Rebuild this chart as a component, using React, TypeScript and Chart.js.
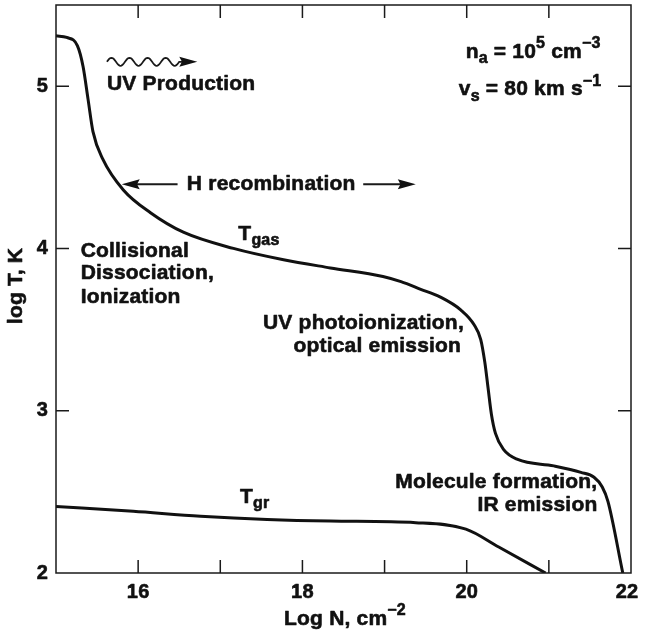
import { useEffect, useRef } from 'react';
import { Chart, registerables } from 'chart.js';
Chart.register(...registerables);

const gasLogN = [15.0, 15.13, 15.26, 15.33, 15.39, 15.45, 15.57, 15.82, 16.15, 16.55, 17.16, 17.77, 18.34, 18.98, 19.2, 19.44, 19.68, 19.93, 20.09, 20.17, 20.22, 20.26, 20.3, 20.35, 20.45, 20.62, 21.06, 21.39, 21.55, 21.65, 21.72, 21.9];
const gasLogT = [5.31, 5.3, 5.25, 5.12, 4.92, 4.72, 4.55, 4.36, 4.22, 4.1, 4.0, 3.93, 3.88, 3.827, 3.795, 3.748, 3.7, 3.62, 3.53, 3.44, 3.3, 3.14, 2.98, 2.86, 2.76, 2.7, 2.66, 2.62, 2.59, 2.53, 2.44, 2.0];
const grLogN = [15.0, 15.94, 16.76, 17.57, 18.34, 19.38, 19.99, 20.39, 20.96];
const grLogT = [2.41, 2.38, 2.35, 2.33, 2.32, 2.31, 2.27, 2.16, 2.0];
const xTickMarks = [16, 17, 18, 19, 20, 21];
const yTickMarks = [3, 4, 5];
const xLabelTicks = [16, 18, 20, 22];
const yLabelTicks = [2, 3, 4, 5];

const FONT = "'Liberation Sans', Arial, Helvetica, sans-serif";
const FS = 21;
const TICK_FS = 20;

type Part = { t: string; s?: 'sub' | 'sup' };

function drawRich(ctx: CanvasRenderingContext2D, parts: Part[], x: number, y: number, align: 'left' | 'right' | 'center', size = FS) {
  const small = Math.round(size * 0.76);
  const fontFor = (p: Part) => `bold ${p.s ? small : size}px ${FONT}`;
  (ctx as any).letterSpacing = '0.2px';
  let w = 0;
  for (const p of parts) {
    ctx.font = fontFor(p);
    w += ctx.measureText(p.t).width;
  }
  let cx = align === 'left' ? x : align === 'right' ? x - w : x - w / 2;
  ctx.textAlign = 'left';
  ctx.textBaseline = 'middle';
  ctx.save();
  ctx.lineWidth = 0.6;
  ctx.strokeStyle = '#111';
  ctx.lineJoin = 'round';
  for (const p of parts) {
    ctx.font = fontFor(p);
    const dy = p.s === 'sub' ? 7 : p.s === 'sup' ? -8 : 0;
    ctx.fillText(p.t, cx, y + dy);
    ctx.strokeText(p.t, cx, y + dy);
    cx += ctx.measureText(p.t).width;
  }
  ctx.restore();
  (ctx as any).letterSpacing = '0px';
}

function arrowHead(ctx: CanvasRenderingContext2D, tipX: number, tipY: number, dir: number, len: number, half: number) {
  ctx.beginPath();
  ctx.moveTo(tipX, tipY);
  ctx.lineTo(tipX - dir * len, tipY - half);
  ctx.lineTo(tipX - dir * len * 0.85, tipY);
  ctx.lineTo(tipX - dir * len, tipY + half);
  ctx.closePath();
  ctx.fill();
}

const decor = {
  id: 'decor',
  afterDraw(chart: any) {
    const { ctx, chartArea: a, scales } = chart;
    const xs = scales.x;
    const ys = scales.y;
    const X = (v: number) => xs.getPixelForValue(v);
    const Y = (v: number) => ys.getPixelForValue(v);
    ctx.save();
    ctx.strokeStyle = '#1a1a1a';
    ctx.fillStyle = '#111';
    ctx.lineWidth = 1.5;
    ctx.strokeRect(a.left, a.top, a.right - a.left, a.bottom - a.top);
    const tl = 13;
    ctx.beginPath();
    for (const v of xTickMarks) {
      const px = X(v);
      ctx.moveTo(px, a.bottom);
      ctx.lineTo(px, a.bottom - tl);
      ctx.moveTo(px, a.top);
      ctx.lineTo(px, a.top + tl);
    }
    for (const v of yTickMarks) {
      const py = Y(v);
      ctx.moveTo(a.left, py);
      ctx.lineTo(a.left + tl, py);
      ctx.moveTo(a.right, py);
      ctx.lineTo(a.right - tl, py);
    }
    ctx.stroke();

    // tick labels
    for (const v of xLabelTicks) drawRich(ctx, [{ t: String(v) }], Math.min(X(v), a.right - 4), a.bottom + 19, 'center', TICK_FS);
    for (const v of yLabelTicks) drawRich(ctx, [{ t: String(v) }], a.left - 8, Y(v), 'right', TICK_FS);

    // axis titles
    ctx.save();
    ctx.translate(16, 286);
    ctx.rotate(-Math.PI / 2);
    drawRich(ctx, [{ t: 'log T, K' }], 0, 0, 'center');
    ctx.restore();
    drawRich(ctx, [{ t: 'Log N, cm' }, { t: '\u22122', s: 'sup' }], 345, 619, 'center');

    // wavy arrow
    const wx0 = X(15.62), wx1 = X(16.5), wy = Y(5.15);
    ctx.lineWidth = 1.8;
    ctx.beginPath();
    const per = (wx1 - wx0) / 4;
    for (let i = 0; i <= 80; i++) {
      const px = wx0 + ((wx1 - wx0) * i) / 80;
      const py = wy - 4 * Math.sin(((px - wx0) / per) * 2 * Math.PI);
      if (i === 0) ctx.moveTo(px, py); else ctx.lineTo(px, py);
    }
    ctx.lineTo(X(16.6), wy);
    ctx.stroke();
    arrowHead(ctx, X(16.72), wy, 1, 18, 5);

    drawRich(ctx, [{ t: 'UV Production' }], X(15.62), Y(5.01), 'left');

    // H recombination
    const hy = Y(4.395);
    drawRich(ctx, [{ t: 'H recombination' }], X(17.62), hy, 'center');
    ctx.lineWidth = 2;
    ctx.beginPath();
    ctx.moveTo(X(16.48), hy);
    ctx.lineTo(X(15.95), hy);
    ctx.moveTo(X(18.74), hy);
    ctx.lineTo(X(19.2), hy);
    ctx.stroke();
    arrowHead(ctx, X(15.8), hy, -1, 18, 5);
    arrowHead(ctx, X(19.38), hy, 1, 18, 5);

    drawRich(ctx, [{ t: 'T' }, { t: 'gas', s: 'sub' }], X(17.22), Y(4.09), 'left');
    drawRich(ctx, [{ t: 'T' }, { t: 'gr', s: 'sub' }], X(17.24), Y(2.47), 'left');

    drawRich(ctx, [{ t: 'Collisional' }], X(15.3), Y(3.98), 'left');
    drawRich(ctx, [{ t: 'Dissociation,' }], X(15.3), Y(3.85), 'left');
    drawRich(ctx, [{ t: 'Ionization' }], X(15.3), Y(3.7), 'left');

    drawRich(ctx, [{ t: 'UV photoionization,' }], X(17.52), Y(3.54), 'left');
    drawRich(ctx, [{ t: 'optical emission' }], X(17.89), Y(3.4), 'left');

    drawRich(ctx, [{ t: 'Molecule formation,' }], X(19.13), Y(2.56), 'left');
    drawRich(ctx, [{ t: 'IR emission' }], X(20.13), Y(2.42), 'left');

    drawRich(ctx, [{ t: 'n' }, { t: 'a', s: 'sub' }, { t: ' = 10' }, { t: '5', s: 'sup' }, { t: ' cm' }, { t: '\u22123', s: 'sup' }], X(21.63), Y(5.21), 'right');
    drawRich(ctx, [{ t: 'v' }, { t: 's', s: 'sub' }, { t: ' = 80 km s' }, { t: '\u22121', s: 'sup' }], X(21.64), Y(4.98), 'right');
    ctx.restore();
  },
};

export default function App() {
  const ref = useRef<HTMLCanvasElement>(null);
  useEffect(() => {
    if (!ref.current) return;
    const chart = new Chart(ref.current, {
      type: 'scatter',
      data: {
        datasets: [
          {
            data: gasLogN.map((x, i) => ({ x, y: gasLogT[i] })),
            showLine: true,
            borderColor: '#111',
            borderWidth: 3,
            pointRadius: 0,
            cubicInterpolationMode: 'monotone',
          },
          {
            data: grLogN.map((x, i) => ({ x, y: grLogT[i] })),
            showLine: true,
            borderColor: '#111',
            borderWidth: 3,
            pointRadius: 0,
            cubicInterpolationMode: 'monotone',
          },
        ],
      },
      options: {
        animation: false,
        responsive: false,
        layout: { padding: { top: 5, right: 14, left: 0, bottom: 0 } },
        plugins: { legend: { display: false }, tooltip: { enabled: false } },
        scales: {
          x: {
            type: 'linear',
            min: 15,
            max: 22,
            afterFit: (s: any) => { s.height = 65; },
            grid: { display: false, drawTicks: false },
            border: { display: false },
            ticks: { display: false },
          },
          y: {
            type: 'linear',
            min: 2,
            max: 5.5,
            afterFit: (s: any) => { s.width = 56; },
            grid: { display: false, drawTicks: false },
            border: { display: false },
            ticks: { display: false },
          },
        },
      },
      plugins: [decor],
    } as any);
    return () => chart.destroy();
  }, []);
  return (
    <div style={{ position: 'absolute', left: 0, top: 0, width: 645, height: 638, background: '#fff' }}>
      <canvas ref={ref} width={645} height={638} />
    </div>
  );
}
